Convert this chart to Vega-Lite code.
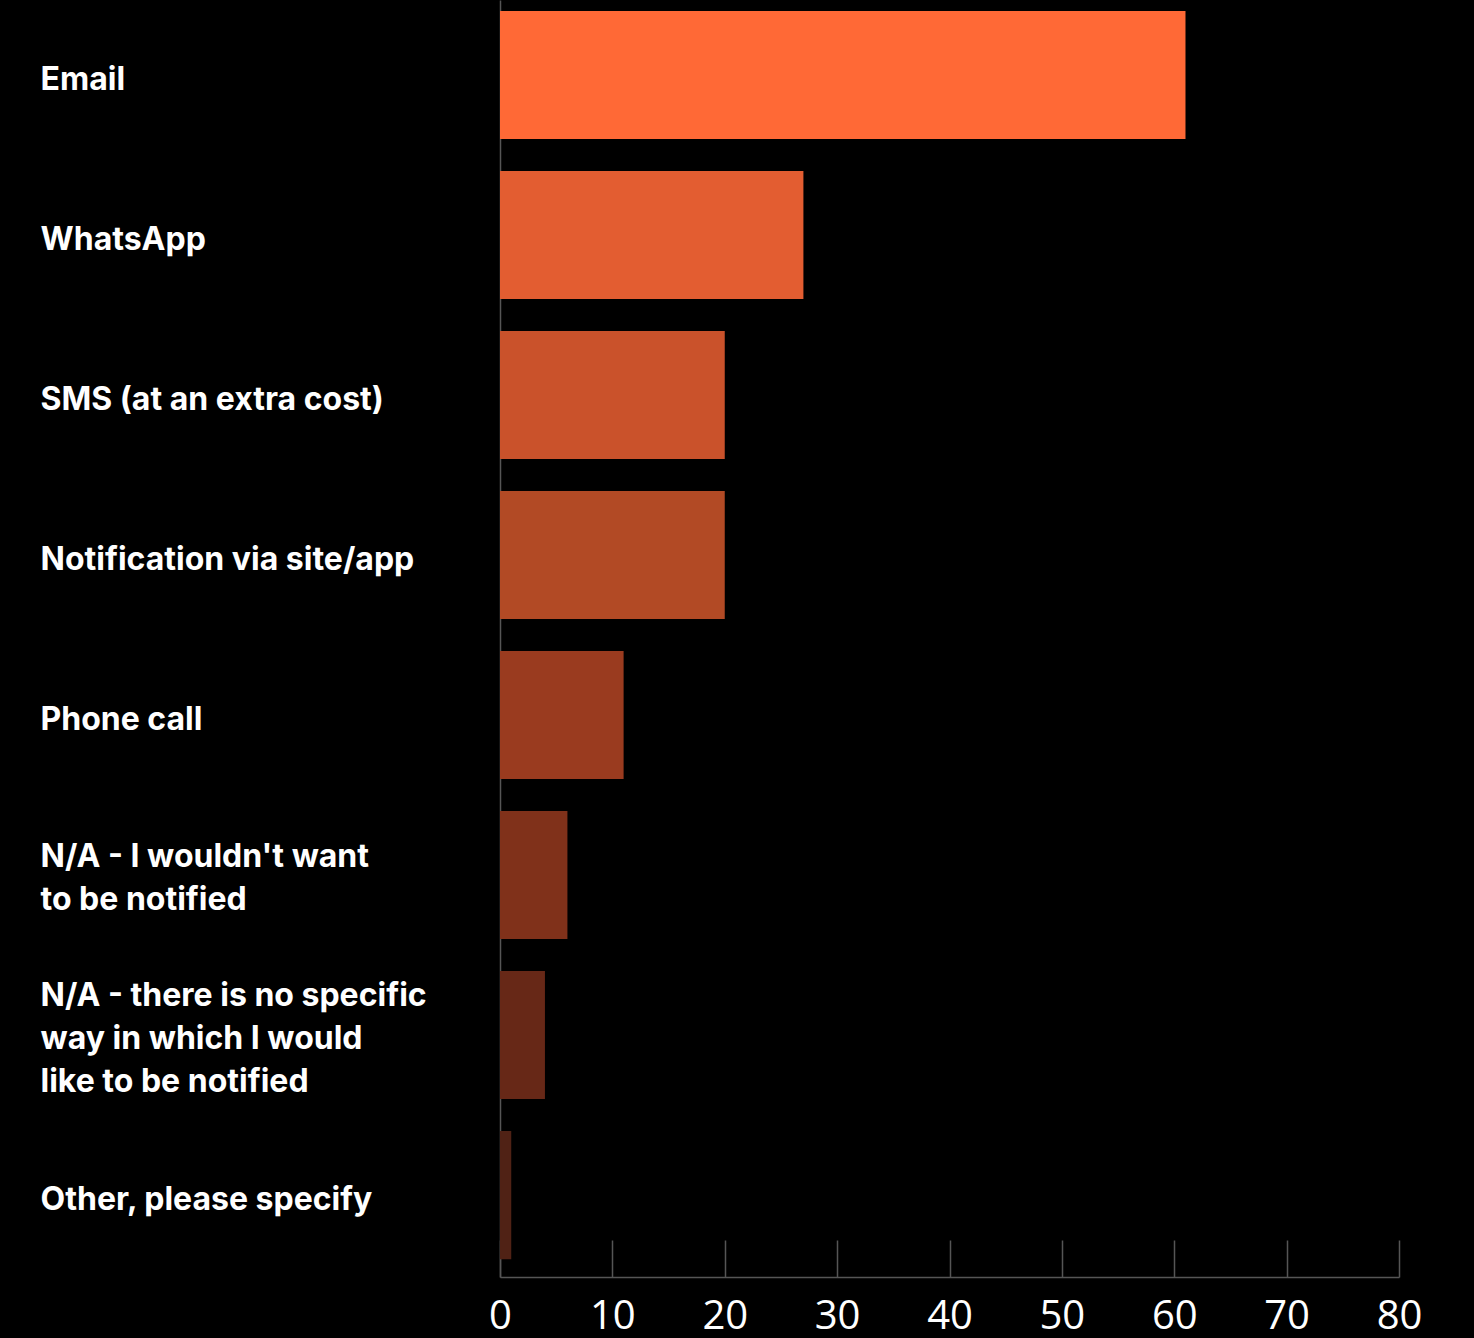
{
  "$schema": "https://vega.github.io/schema/vega-lite/v6.json",
  "width": 899,
  "height": 1277,
  "autosize": {"type": "none"},
  "padding": {"left": 500, "top": 0, "right": 75, "bottom": 61},
  "background": "#000000",
  "config": {"view": {"stroke": null}},
  "data": {
    "values": [
      {"channel": "Email", "value": 61, "color": "#FF6936"},
      {"channel": "WhatsApp", "value": 27, "color": "#E35D31"},
      {"channel": "SMS (at an extra cost)", "value": 20, "color": "#CA522B"},
      {"channel": "Notification via site/app", "value": 20, "color": "#B24A25"},
      {"channel": "Phone call", "value": 11, "color": "#9A3B1F"},
      {"channel": "N/A - I wouldn't want to be notified", "value": 6, "color": "#80311A"},
      {"channel": "N/A - there is no specific way in which I would like to be notified", "value": 4, "color": "#672817"},
      {"channel": "Other, please specify", "value": 1, "color": "#502215"}
    ]
  },
  "mark": {"type": "bar"},
  "encoding": {
    "y": {
      "field": "channel",
      "type": "nominal",
      "sort": null,
      "scale": {"paddingInner": 0.2, "paddingOuter": 0.09, "align": 0.38},
      "axis": {
        "title": null,
        "ticks": false,
        "domain": true,
        "domainColor": "#555555",
        "domainWidth": 1.5,
        "labelAlign": "left",
        "labelPadding": 460,
        "labelFont": "Inter",
        "labelFontWeight": "bold",
        "labelFontSize": 32,
        "labelColor": "#FFFFFF",
        "labelLimit": 0,
        "labelOffset": {
          "condition": [
            {"test": "indexof(datum.value, 'no specific') >= 0", "value": -39},
            {"test": "indexof(datum.value, 'wouldn') >= 0", "value": -18}
          ],
          "value": 5
        },
        "labelLineHeight": 43,
        "labelExpr": "datum.value == \"N/A - I wouldn't want to be notified\" ? [\"N/A - I wouldn't want\", \"to be notified\"] : datum.value == \"N/A - there is no specific way in which I would like to be notified\" ? [\"N/A - there is no specific\", \"way in which I would\", \"like to be notified\"] : datum.value"
      }
    },
    "x": {
      "field": "value",
      "type": "quantitative",
      "scale": {"domain": [0, 80], "nice": false},
      "axis": {
        "title": null,
        "values": [0, 10, 20, 30, 40, 50, 60, 70, 80],
        "grid": false,
        "domainColor": "#555555",
        "domainWidth": 1.5,
        "tickColor": "#555555",
        "tickWidth": 1.5,
        "tickSize": -37,
        "labelPadding": 56,
        "labelFont": "Open Sans",
        "labelFontSize": 40,
        "labelColor": "#FFFFFF",
        "labelFlush": false,
        "labelOverlap": false
      }
    },
    "color": {"field": "color", "type": "nominal", "scale": null, "legend": null}
  }
}
